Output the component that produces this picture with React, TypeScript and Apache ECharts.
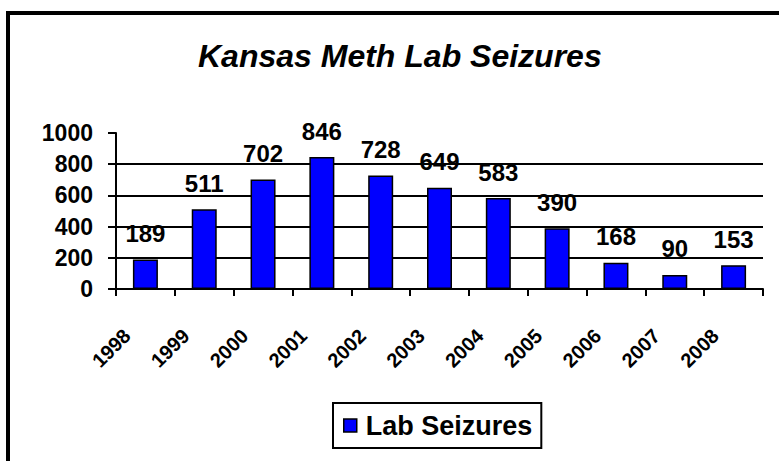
import React, { useEffect, useRef } from "react";
import * as echarts from "echarts";

const years = ["1998", "1999", "2000", "2001", "2002", "2003", "2004", "2005", "2006", "2007", "2008"];
const labSeizures = [189, 511, 702, 846, 728, 649, 583, 390, 168, 90, 153];
const seriesName = "Lab Seizures";
const titleText = "Kansas Meth Lab Seizures";

const FONT = "'Liberation Sans', Arial, sans-serif";

export default function App() {
  const ref = useRef<HTMLDivElement>(null);
  useEffect(() => {
    if (!ref.current) return;
    const chart = echarts.init(ref.current, undefined, { renderer: "svg" });
    chart.setOption({
      animation: false,
      backgroundColor: "#ffffff",
      textStyle: { fontFamily: FONT },
      title: {
        text: titleText,
        left: 193,
        top: 35,
        textStyle: { fontFamily: FONT, fontSize: 32, fontWeight: "bold", fontStyle: "italic", color: "#000" },
      },
      graphic: [
        {
          type: "rect",
          shape: { x: 8, y: 13, width: 820, height: 520 },
          style: { fill: "none", stroke: "#000", lineWidth: 4 },
          silent: true,
          z: 100,
        },
      ],
      legend: {
        data: [seriesName],
        left: 333,
        top: 403,
        padding: [9, 9, 9, 10],
        borderColor: "#000",
        borderWidth: 2,
        icon: "rect",
        itemWidth: 13,
        itemHeight: 13,
        itemStyle: { color: "#0000ff", borderColor: "#000", borderWidth: 1.5 },
        textStyle: { fontFamily: FONT, fontSize: 27, fontWeight: "bold", color: "#000", padding: [0, 0, 0, 4] },
      },
      grid: { left: 116, right: 16, top: 133, bottom: 172, containLabel: false },
      xAxis: {
        type: "category",
        data: years,
        axisLine: { show: true, lineStyle: { color: "#000", width: 2 } },
        axisTick: { show: true, alignWithLabel: false, length: 7, lineStyle: { color: "#000", width: 2 } },
        axisLabel: {
          rotate: 45,
          interval: 0,
          margin: 25,
          padding: [0, 26, 0, 0],
          fontFamily: FONT,
          fontSize: 20,
          fontWeight: "bold",
          color: "#000",
        },
        splitLine: { show: false },
      },
      yAxis: {
        type: "value",
        min: 0,
        max: 1000,
        interval: 200,
        axisLine: { show: true, lineStyle: { color: "#000", width: 2 } },
        axisTick: { show: true, inside: false, length: 8, lineStyle: { color: "#000", width: 2 } },
        axisLabel: {
          margin: 23,
          fontFamily: FONT,
          fontSize: 23,
          fontWeight: "bold",
          color: "#000",
          formatter: (v: number) => String(v),
        },
        splitLine: { show: true, showMaxLine: false, showMinLine: false, lineStyle: { color: "#000", width: 2 } },
      },
      series: [
        {
          name: seriesName,
          type: "bar",
          data: labSeizures,
          barWidth: 25,
          itemStyle: { color: "#0000ff", borderColor: "#000", borderWidth: 1.5 },
          label: {
            show: true,
            position: "top",
            distance: 14,
            fontFamily: FONT,
            fontSize: 24,
            fontWeight: "bold",
            color: "#000",
          },
        },
      ],
    });
    return () => chart.dispose();
  }, []);
  return (
    <div
      ref={ref}
      style={{ position: "fixed", left: 0, top: 0, width: 779, height: 461 }}
    />
  );
}
